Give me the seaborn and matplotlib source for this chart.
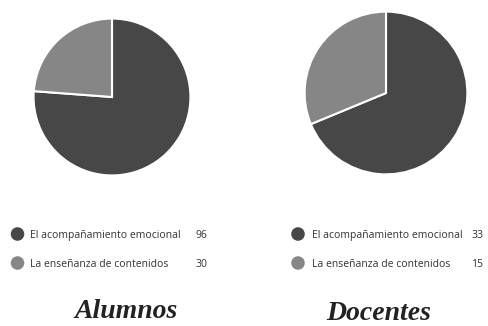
import matplotlib
matplotlib.use("Agg")
import matplotlib.pyplot as plt
import seaborn as sns

categories = ["El acompañamiento emocional", "La enseñanza de contenidos"]
alumnos_values = [96, 30]
docentes_values = [33, 15]
group_titles = ["Alumnos", "Docentes"]

sns.set_theme(style="white")
plt.rcParams['font.family'] = ['Open Sans', 'DejaVu Sans']
colors = ["#474747", "#868686"]

W, H = 488, 326
fig = plt.figure(figsize=(W / 100, H / 100), dpi=100)

def px_axes(cx, cy, r):
    return fig.add_axes([(cx - r) / W, (H - cy - r) / H, 2 * r / W, 2 * r / H])

pies = [(112, 97, 80, alumnos_values), (386, 93, 83, docentes_values)]
for cx, cy, r, vals in pies:
    ax = px_axes(cx, cy, r)
    ax.pie(vals, colors=colors, startangle=90, counterclock=False, radius=1,
           wedgeprops=dict(edgecolor="white", linewidth=1.5))
    ax.set_xlim(-1.02, 1.02)
    ax.set_ylim(-1.02, 1.02)
    ax.set_aspect("equal")
    ax.axis("off")

# overlay for legends and titles
ov = fig.add_axes([0, 0, 1, 1])
ov.set_xlim(0, W)
ov.set_ylim(H, 0)
ov.axis("off")

legends = [(17.5, 30, 195, alumnos_values), (298, 312, 471, docentes_values)]
rows_y = [234, 263]
for mx, tx, vx, vals in legends:
    for i, (cat, v) in enumerate(zip(categories, vals)):
        y = rows_y[i]
        ov.scatter([mx], [y], s=95, color=colors[i], edgecolor="none")
        ov.text(tx, y + 3.8, cat, fontsize=7.5, color="#333333", va="baseline", ha="left")
        ov.text(vx, y + 3.8, str(v), fontsize=7.5, color="#333333", va="baseline", ha="left")

title_pos = [(126, 311), (379, 314)]
for (x, y), t in zip(title_pos, group_titles):
    ov.text(x, y, t, fontsize=20, fontweight="bold", fontstyle="italic",
            family=["Liberation Serif", "DejaVu Serif"], color="#222222",
            ha="center", va="center")

fig.savefig("out.png", dpi=100)
